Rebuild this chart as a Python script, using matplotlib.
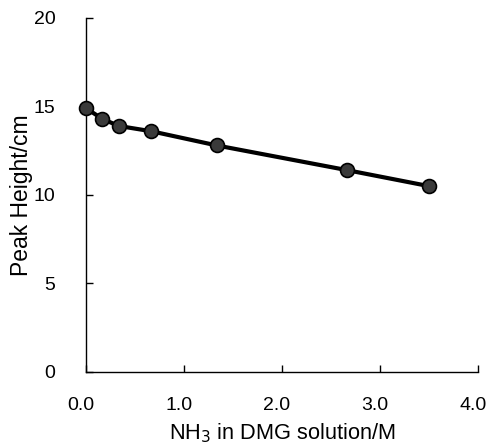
import matplotlib
matplotlib.use('Agg')
import matplotlib.pyplot as plt
from matplotlib.transforms import ScaledTranslation

# NH3 concentration (M) vs peak height (cm)
nh3_conc = [0.0, 0.167, 0.333, 0.667, 1.333, 2.667, 3.5]
peak_height = [14.9, 14.3, 13.9, 13.6, 12.8, 11.4, 10.5]

x_ticks = [0.0, 1.0, 2.0, 3.0, 4.0]
y_ticks = [0, 5, 10, 15, 20]

plt.rcParams['font.family'] = ['Liberation Sans', 'DejaVu Sans']

fig = plt.figure(figsize=(4.9, 4.47), dpi=100)
ax = fig.add_axes([0.1755, 0.1678, 0.80, 0.792])

ax.plot(nh3_conc, peak_height, color='black', linewidth=3,
        marker='o', markersize=10, markerfacecolor='#3a3a3a',
        markeredgecolor='black', markeredgewidth=1.2, clip_on=False, zorder=3)

ax.set_xlim(0, 4)
ax.set_ylim(0, 20)
ax.set_xticks(x_ticks)
ax.set_xticklabels([f'{v:.1f}' for v in x_ticks])
ax.set_yticks(y_ticks)

for side in ('top', 'right'):
    ax.spines[side].set_visible(False)
for side in ('left', 'bottom'):
    ax.spines[side].set_linewidth(1.0)

ax.tick_params(direction='in', length=5, width=1.0, labelsize=14)
ax.tick_params(axis='x', pad=18)
ax.tick_params(axis='y', pad=22)

# nudge x tick labels a little to the left
shift = ScaledTranslation(-5 / 100, 0, fig.dpi_scale_trans)
for lbl in ax.get_xticklabels():
    lbl.set_transform(lbl.get_transform() + shift)

ax.set_xlabel('NH$_3$ in DMG solution/M', fontsize=15.7, labelpad=5)
ax.set_ylabel('Peak Height/cm', fontsize=16.5)
ax.yaxis.set_label_coords(-0.135, 0.5)

fig.savefig('out.png', dpi=100)
